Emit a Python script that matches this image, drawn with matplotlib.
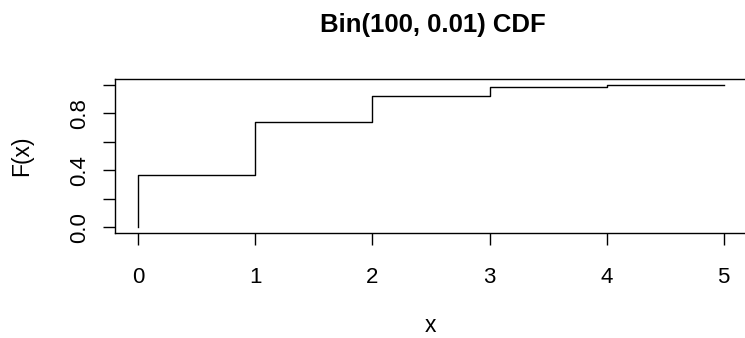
import matplotlib
matplotlib.use("Agg")
import matplotlib.pyplot as plt

# Bin(100, 0.01) cumulative probabilities at x = 0..5
xVals = [0, 1, 2, 3, 4, 5]
cdfVals = [0.366, 0.736, 0.921, 0.982, 0.9966, 0.9995]
yTicks = [0.0, 0.2, 0.4, 0.6, 0.8, 1.0]
yTickLabels = ["0.0", "", "0.4", "", "0.8", ""]

plt.rcParams['font.family'] = ['Liberation Sans', 'DejaVu Sans']

fig = plt.figure(figsize=(7.45, 3.38), dpi=100)
ax = fig.add_axes([115 / 745, 1 - 233 / 338, 632 / 745, 154 / 338])

# R type="s" starting from (0, 0)
xs = [xVals[0]] + xVals
ys = [0.0] + cdfVals
ax.step(xs, ys, where="post", color="black", linewidth=1)

ax.set_xlim(-0.2, 5.2)
ax.set_ylim(-0.04, 1.04)
ax.set_xticks(xVals)
ax.set_yticks(yTicks)
ax.set_yticklabels(yTickLabels, rotation=90, va="center")
ax.tick_params(axis="both", direction="out", length=8.6, width=1, labelsize=16)
ax.tick_params(axis="x", pad=16)
ax.tick_params(axis="y", pad=9.5)

for s in ax.spines.values():
    s.set_linewidth(1)

fig.text(430 / 745, 1 - 332.5 / 338, "x", ha="center", va="baseline", fontsize=16.5)
fig.text(21.5 / 745, 1 - 156 / 338, "F(x)", ha="center", va="center",
         rotation=90, fontsize=16.5)
fig.text(433 / 745, 1 - 25 / 338, "Bin(100, 0.01) CDF", ha="center", va="center",
         fontsize=18.5, fontweight="bold")

fig.savefig("out.png", dpi=100)
